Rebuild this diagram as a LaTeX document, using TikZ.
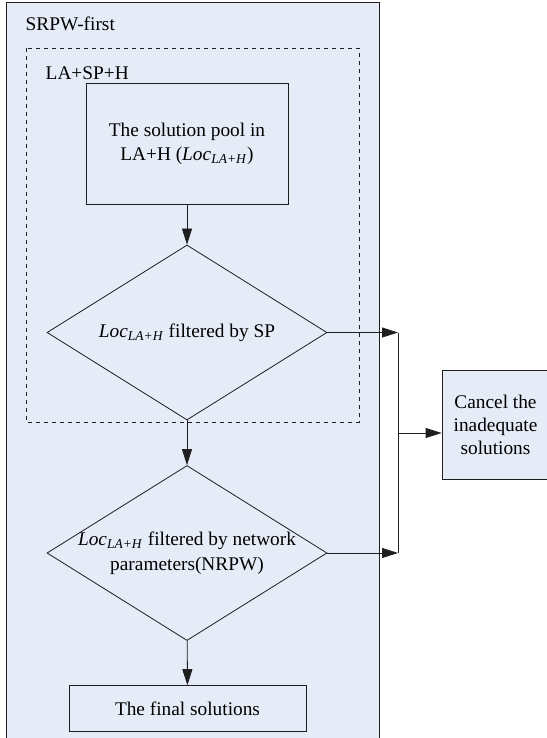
\documentclass[tikz,border=0pt]{standalone}
\usepackage{fontspec}
\setmainfont{Liberation Serif}
\usepackage{tikz}
\usetikzlibrary{positioning,arrows.meta,shapes}

\definecolor{panelblue}{RGB}{230,236,247}
\definecolor{linegray}{RGB}{30,30,30}

\newcommand{\locsub}{\textit{Loc}\textsubscript{\textit{LA+H}}}

\begin{document}
\begin{tikzpicture}[
        x=0.75pt, y=-0.75pt,
        every node/.style = {font=\fontsize{14.5pt}{18.5pt}\selectfont},
        box/.style = {draw=linegray, line width=0.6pt, align=center, inner sep=0pt},
        decision/.style = {draw=linegray, line width=0.6pt, diamond, inner sep=0pt,
                           minimum width=210pt, minimum height=131.25pt},
        arrow/.style = {-{Triangle[length=12pt,width=7.5pt]}, line width=0.6pt, linegray}
    ]
    \useasboundingbox (0,0) rectangle (546,738);

    % outer panel and dashed group
    \fill[panelblue] (6,2) rectangle (379,740);
    \draw[linegray, line width=0.6pt] (6,740) -- (6,2) -- (379,2) -- (379,740);
    \node[anchor=west] (srpw) at (21,24) {SRPW-first};
    \draw[dashed, linegray, line width=0.6pt] (26,48) rectangle (359,422);
    \node[anchor=west] (lasph) at (41,73) {LA+SP+H};

    % flow
    \node[box, minimum width=151.5pt, minimum height=90.75pt] (pool) at (187,144)
        {The solution pool in\\LA+H (\locsub)};
    \node[decision] (bysp) at (187,332.5) {};
    \node (byspt) at (bysp) {\locsub{} filtered by SP};
    \node[decision] (bynet) at (187,553) {};
    \node[align=center] (bynett) at (bynet) {\locsub{} filtered by network\\parameters(NRPW)};
    \node[box, minimum width=177.75pt, minimum height=34.5pt] (final) at (187.5,708.6)
        {The final solutions};
    \node[box, fill=panelblue, minimum width=80.25pt, minimum height=81.75pt,
          font=\fontsize{14.5pt}{17.25pt}\selectfont] (cancel) at (495.5,424.5)
        {Cancel the\\inadequate\\solutions};

    % junctions on the right
    \coordinate (j1) at (398,332.5);
    \coordinate (j2) at (398,553);
    \coordinate (jm) at (398,433);

    % Arrows
    \draw[arrow] (pool) -- (bysp);
    \draw[arrow] (bysp) -- (bynet);
    \draw[arrow] (bynet) -- (final);
    \draw[arrow] (bysp.east) -- (j1);
    \draw[arrow] (bynet.east) -- (j2);
    \draw[linegray, line width=0.6pt] (j1) -- (j2);
    \draw[arrow] (jm) -- (jm -| cancel.west);

\end{tikzpicture}
\end{document}
